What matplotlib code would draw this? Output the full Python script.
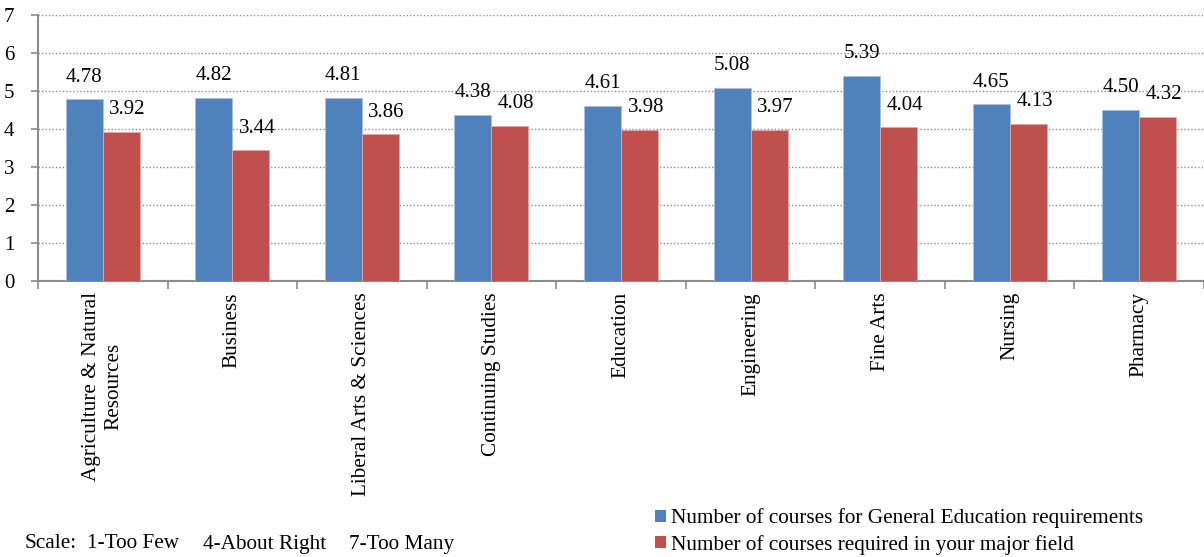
import matplotlib
matplotlib.use("Agg")
import matplotlib.pyplot as plt
import numpy as np
from matplotlib.patches import Patch

categories = ["Agriculture & Natural\nResources", "Business", "Liberal Arts & Sciences",
              "Continuing Studies", "Education", "Engineering", "Fine Arts", "Nursing", "Pharmacy"]
gen_ed = [4.78, 4.82, 4.81, 4.38, 4.61, 5.08, 5.39, 4.65, 4.50]
major = [3.92, 3.44, 3.86, 4.08, 3.98, 3.97, 4.04, 4.13, 4.32]
series_names = ["Number of courses for General Education requirements",
                "Number of courses required in your major field"]
yticks = [0, 1, 2, 3, 4, 5, 6, 7]
scale_parts = ["Scale:", "1-Too Few", "4-About Right", "7-Too Many"]

blue = "#4F81BD"
red = "#C0504D"
plt.rcParams['font.family'] = ['Liberation Serif', 'DejaVu Serif']
fs = 15

fig = plt.figure(figsize=(12.04, 5.57), dpi=100)
ax = fig.add_axes([38/1204, 276/557, 1 - 38/1204, (281-15)/557])

x = np.arange(len(categories))
w = 0.286
ax.bar(x - w/2, gen_ed, w, color=blue, edgecolor="#A9C1E0", linewidth=0.6, zorder=3)
ax.bar(x + w/2, major, w, color=red, edgecolor="#E0A9A8", linewidth=0.6, zorder=3)

for xi, v in zip(x - w/2, gen_ed):
    ax.annotate(f"{v:.2f}", (xi, v), xytext=(0, 16), textcoords="offset points",
                ha="center", va="center", fontsize=fs)
for xi, v in zip(x + w/2, major):
    ax.annotate(f"{v:.2f}", (xi, v), xytext=(4.5, 16), textcoords="offset points",
                ha="center", va="center", fontsize=fs)

ax.set_xlim(-0.5, len(categories) - 0.5)
ax.set_ylim(0, 7)
ax.set_yticks(yticks)
ax.set_yticklabels([str(t) for t in yticks], fontsize=fs)
ax.yaxis.grid(True, linestyle=(0, (1, 1.5)), color="#8C8C8C", linewidth=1.0, zorder=0)
ax.set_axisbelow(True)

ax.set_xticks(np.arange(-0.5, len(categories), 1.0))
ax.set_xticklabels([])
ax.set_xticks(x, minor=True)
ax.set_xticklabels(categories, minor=True, rotation=90, fontsize=15.3, ha="center", va="top",
                   multialignment="center")
ax.tick_params(axis="x", which="major", direction="out", length=6, color="#8C8C8C", width=1.2)
ax.tick_params(axis="x", which="minor", length=0, pad=8)
ax.tick_params(axis="y", direction="out", length=5, color="#8C8C8C", width=1.2, pad=12)

for s in ["top", "right"]:
    ax.spines[s].set_visible(False)
for s in ["left", "bottom"]:
    ax.spines[s].set_color("#8C8C8C")
    ax.spines[s].set_linewidth(1.5)

scale_x = [25, 87, 203, 349]
for px, t in zip(scale_x, scale_parts):
    fig.text(px/1204, 1 - 544/557, t, fontsize=15.3, ha="left", va="center")

handles = [Patch(facecolor=blue), Patch(facecolor=red)]
fig.legend(handles, series_names, loc="center left", bbox_to_anchor=(655/1204, 1 - 531.5/557),
           frameon=False, fontsize=15.3, handlelength=0.5, handleheight=0.5,
           handletextpad=0.25, labelspacing=0.3, borderpad=0, borderaxespad=0)

fig.savefig("out.png", dpi=100)
